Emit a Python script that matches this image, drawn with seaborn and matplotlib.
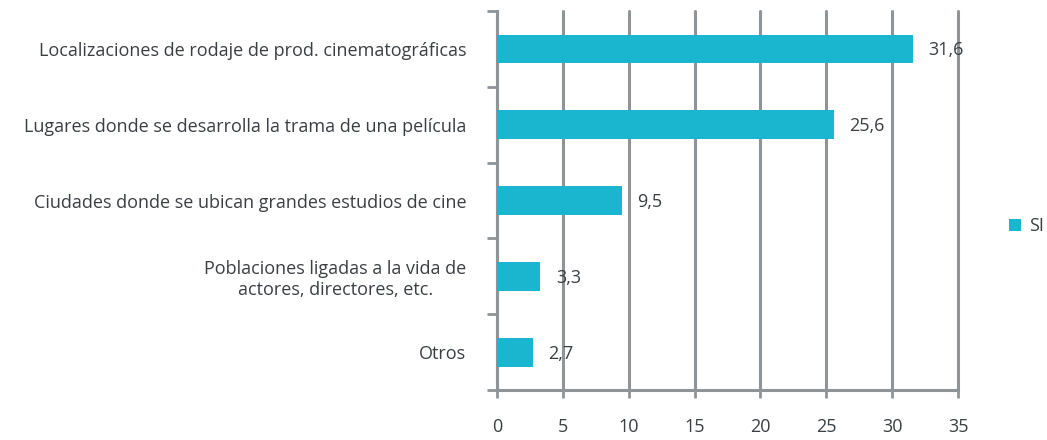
from matplotlib import pyplot as plt
import pandas as pd
import seaborn as sns

categories = [
    "Localizaciones de rodaje de prod. cinematográficas",
    "Lugares donde se desarrolla la trama de una película",
    "Ciudades donde se ubican grandes estudios de cine",
    "Poblaciones ligadas a la vida de\nactores, directores, etc.",
    "Otros",
]
values = [31.6, 25.6, 9.5, 3.3, 2.7]
value_labels = ["31,6", "25,6", "9,5", "3,3", "2,7"]
series = "SI"
xticks = [0, 5, 10, 15, 20, 25, 30, 35]

bar_color = "#1AB6CF"
grid_color = "#8F9499"
text_color = "#3A3F44"

sns.set_style("white")
plt.rcParams['font.family'] = ['Open Sans', 'DejaVu Sans']

data = pd.DataFrame({"Categoria": categories, "Valor": values, "Serie": series})

fig = plt.figure(figsize=(10.47, 4.40), dpi=100)
ax = fig.add_axes([0.4747, 0.1136, 0.4403, 0.861])

g = sns.barplot(
    data=data,
    x="Valor",
    y="Categoria",
    hue="Serie",
    palette=[bar_color],
    saturation=1,
    linewidth=0,
    width=0.38,
    ax=ax,
    zorder=3,
)

ax.set_xlim(0, 35)
ax.set_ylim(4.5, -0.5)
ax.set_xticks(xticks)
ax.set_xticklabels([str(t) for t in xticks])
ax.set_xlabel("")
ax.set_ylabel("")

# gridlines
ax.grid(axis="x", color=grid_color, linewidth=2.2, zorder=0)
ax.grid(axis="y", visible=False)
for gl in ax.get_xgridlines():
    gl.set_clip_on(False)
for s in ["top", "right"]:
    ax.spines[s].set_visible(False)
for s in ["left", "bottom"]:
    ax.spines[s].set_color(grid_color)
    ax.spines[s].set_linewidth(2.2)

# ticks at category boundaries
ax.set_yticks([i - 0.5 for i in range(len(categories) + 1)], minor=True)
ax.tick_params(axis="y", which="minor", length=7, width=2, color=grid_color, left=True)
ax.tick_params(axis="y", which="major", length=0, pad=22, labelsize=13, labelcolor=text_color)
ax.tick_params(axis="x", which="major", length=6, width=2, color=grid_color, pad=14,
               labelsize=13, labelcolor=text_color, bottom=True)
for lbl in ax.get_yticklabels():
    lbl.set_multialignment("center")

for i, (v, lab) in enumerate(zip(values, value_labels)):
    ax.annotate(lab, (v, i), xytext=(11, -1), textcoords="offset points",
                va="center", ha="left", fontsize=13, color=text_color)

leg = ax.legend(loc="center left", bbox_to_anchor=(0.948, 0.486),
                bbox_transform=fig.transFigure, frameon=False,
                handlelength=0.7, handleheight=0.7, handletextpad=0.4,
                fontsize=13)
for t in leg.get_texts():
    t.set_color(text_color)

plt.savefig("out.png", dpi=100)
plt.close()
